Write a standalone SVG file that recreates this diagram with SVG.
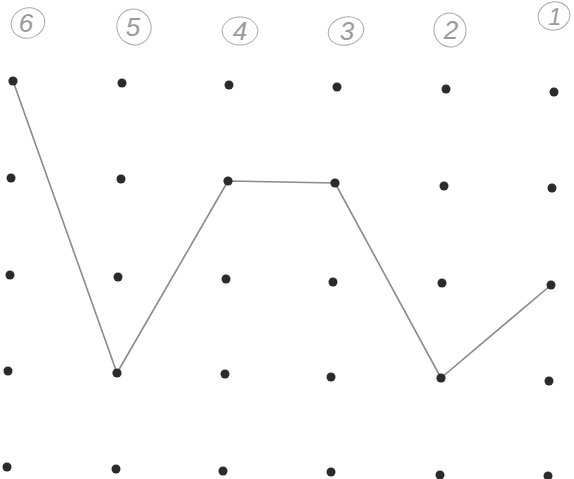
<svg xmlns="http://www.w3.org/2000/svg" width="574" height="479" viewBox="0 0 574 479">
<style>
.dot{fill:#2b2b2b}
.edge{fill:none;stroke:#8a8a8a;stroke-width:1.6;stroke-linecap:round;stroke-linejoin:round}
.ring{fill:none;stroke:#a8a8a8;stroke-width:1}
.lbl{font-family:"Liberation Sans",Arial,sans-serif;font-size:26px;font-style:italic;fill:#9a9a9a;text-anchor:middle}
</style>
<rect width="574" height="479" fill="#ffffff"/>
<g id="labels">
  <g id="label-6"><ellipse class="ring" cx="28" cy="23" rx="17" ry="15" transform="rotate(-20 28 23)"/><text class="lbl" x="26" y="32">6</text></g>
  <g id="label-5"><ellipse class="ring" cx="134" cy="27" rx="17" ry="18" transform="rotate(-20 134 27)"/><text class="lbl" x="133" y="36">5</text></g>
  <g id="label-4"><ellipse class="ring" cx="240" cy="31" rx="18" ry="14"/><text class="lbl" x="240" y="40">4</text></g>
  <g id="label-3"><ellipse class="ring" cx="346" cy="31" rx="18" ry="14" transform="rotate(-15 346 31)"/><text class="lbl" x="347" y="40">3</text></g>
  <g id="label-2"><ellipse class="ring" cx="450" cy="30" rx="16" ry="17" transform="rotate(-15 450 30)"/><text class="lbl" x="451" y="39">2</text></g>
  <g id="label-1"><ellipse class="ring" cx="554" cy="16" rx="16" ry="14" transform="rotate(-15 554 16)"/><text class="lbl" x="555" y="25" style="font-size:23px">1</text></g>
</g>
<g id="connectors">
  <polyline class="edge" points="13,81 117,373 228,181 335,183 441,378 551,285"/>
</g>
<g id="dots">
  <g id="r1c6"><circle class="dot" cx="13" cy="81" r="4.6"/></g>
  <g id="r1c5"><circle class="dot" cx="122" cy="83" r="4.5"/></g>
  <g id="r1c4"><circle class="dot" cx="229" cy="85" r="4.5"/></g>
  <g id="r1c3"><circle class="dot" cx="337" cy="87" r="4.5"/></g>
  <g id="r1c2"><circle class="dot" cx="446" cy="89" r="4.5"/></g>
  <g id="r1c1"><circle class="dot" cx="554" cy="92" r="4.5"/></g>
  <g id="r2c6"><circle class="dot" cx="11" cy="178" r="4.5"/></g>
  <g id="r2c5"><circle class="dot" cx="121" cy="179" r="4.5"/></g>
  <g id="r2c4"><circle class="dot" cx="228" cy="181" r="4.6"/></g>
  <g id="r2c3"><circle class="dot" cx="335" cy="183" r="4.6"/></g>
  <g id="r2c2"><circle class="dot" cx="444" cy="186" r="4.5"/></g>
  <g id="r2c1"><circle class="dot" cx="552" cy="188" r="4.5"/></g>
  <g id="r3c6"><circle class="dot" cx="10" cy="275" r="4.5"/></g>
  <g id="r3c5"><circle class="dot" cx="118" cy="277" r="4.5"/></g>
  <g id="r3c4"><circle class="dot" cx="226" cy="279" r="4.5"/></g>
  <g id="r3c3"><circle class="dot" cx="333" cy="282" r="4.5"/></g>
  <g id="r3c2"><circle class="dot" cx="442" cy="283" r="4.5"/></g>
  <g id="r3c1"><circle class="dot" cx="551" cy="285" r="4.5"/></g>
  <g id="r4c6"><circle class="dot" cx="8" cy="371" r="4.5"/></g>
  <g id="r4c5"><circle class="dot" cx="117" cy="373" r="4.6"/></g>
  <g id="r4c4"><circle class="dot" cx="225" cy="374" r="4.5"/></g>
  <g id="r4c3"><circle class="dot" cx="331" cy="377" r="4.5"/></g>
  <g id="r4c2"><circle class="dot" cx="441" cy="378" r="4.6"/></g>
  <g id="r4c1"><circle class="dot" cx="549" cy="381" r="4.5"/></g>
  <g id="r5c6"><circle class="dot" cx="7" cy="467" r="4.5"/></g>
  <g id="r5c5"><circle class="dot" cx="116" cy="469" r="4.5"/></g>
  <g id="r5c4"><circle class="dot" cx="223" cy="471" r="4.5"/></g>
  <g id="r5c3"><circle class="dot" cx="331" cy="472" r="4.5"/></g>
  <g id="r5c2"><circle class="dot" cx="440" cy="475" r="4.5"/></g>
  <g id="r5c1"><circle class="dot" cx="548" cy="476" r="4.5"/></g>
</g>
</svg>
